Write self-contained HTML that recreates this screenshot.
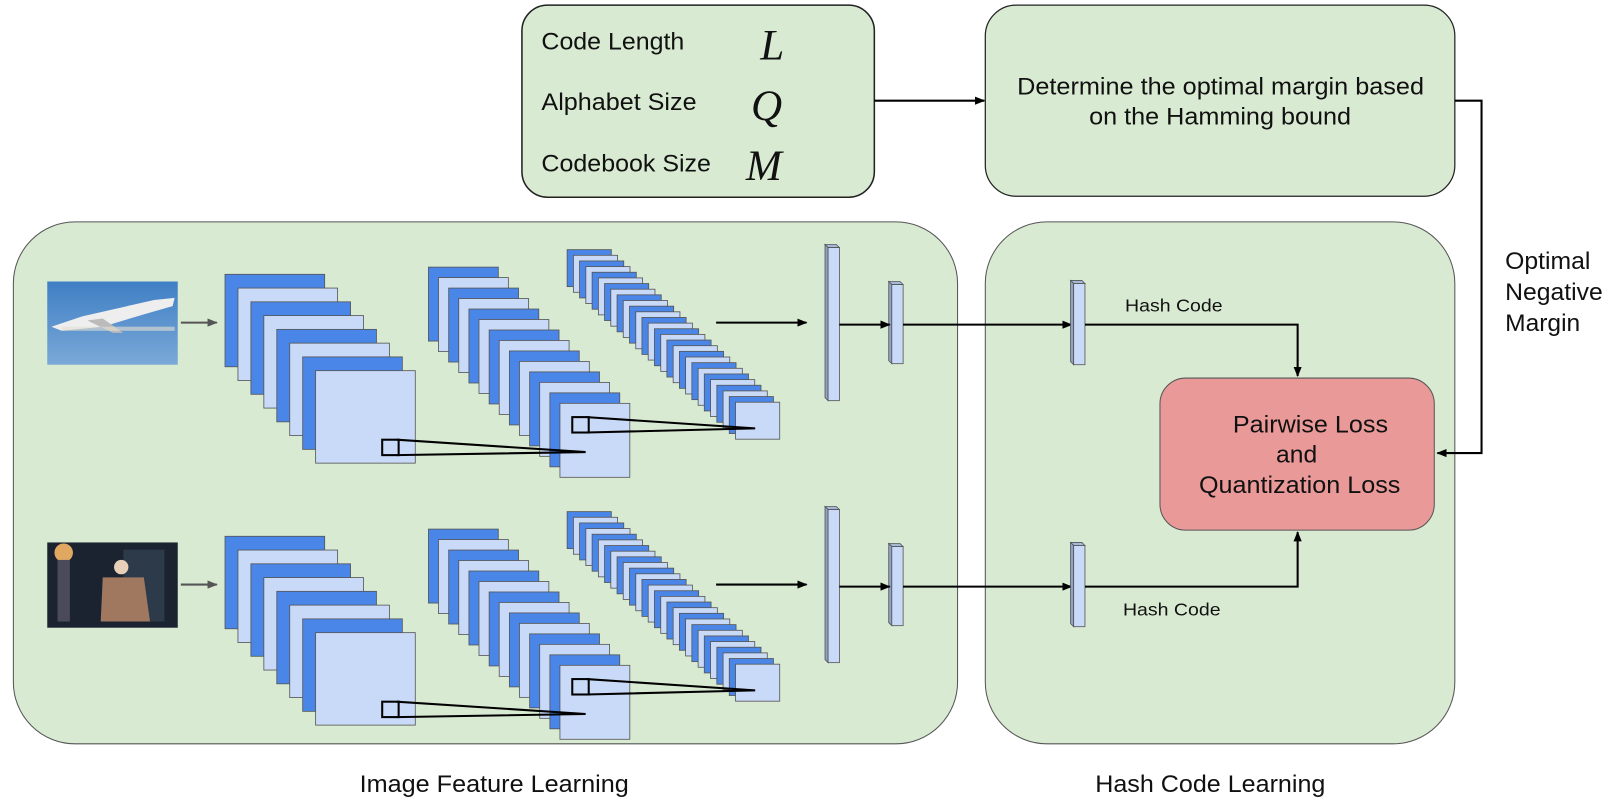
<!DOCTYPE html>
<html><head><meta charset="utf-8"><style>
html,body{margin:0;padding:0;background:#fff;}
svg{display:block;}
text{font-family:"Liberation Sans",Arial,sans-serif;fill:#111;}
.s{font-family:"Liberation Serif",serif;font-style:italic;}
.b{fill:#4a86e8;stroke:#555;stroke-width:0.8}
.l{fill:#c9daf8;stroke:#555;stroke-width:0.8}
</style></head><body>
<svg width="1611" height="811" viewBox="0 0 1568 789.4" preserveAspectRatio="none" xmlns="http://www.w3.org/2000/svg">
<defs>
<marker id="a" markerWidth="10" markerHeight="8" refX="9" refY="4" orient="auto" markerUnits="userSpaceOnUse"><path d="M0,0L10,4L0,8z" fill="#000"/></marker>
<marker id="g" markerWidth="10" markerHeight="8" refX="9" refY="4" orient="auto" markerUnits="userSpaceOnUse"><path d="M0,0L10,4L0,8z" fill="#555"/></marker>
<linearGradient id="sky" x1="0" y1="0" x2="0" y2="1"><stop offset="0" stop-color="#3f7fc4"/><stop offset="1" stop-color="#7aa9d8"/></linearGradient>
<g id="row">
<line x1="176" y1="314" x2="211" y2="314" stroke="#555" stroke-width="2" marker-end="url(#g)"/>
<rect class="b" x="219" y="267" width="97" height="90"/><rect class="l" x="231.6" y="280.4" width="97" height="90"/><rect class="b" x="244.2" y="293.8" width="97" height="90"/><rect class="l" x="256.8" y="307.2" width="97" height="90"/><rect class="b" x="269.4" y="320.6" width="97" height="90"/><rect class="l" x="282" y="334" width="97" height="90"/><rect class="b" x="294.6" y="347.4" width="97" height="90"/><rect class="l" x="307.2" y="360.8" width="97" height="90"/>
<rect class="b" x="417" y="260" width="68" height="72"/><rect class="l" x="426.8" y="270.2" width="68" height="72"/><rect class="b" x="436.7" y="280.4" width="68" height="72"/><rect class="l" x="446.5" y="290.6" width="68" height="72"/><rect class="b" x="456.4" y="300.8" width="68" height="72"/><rect class="l" x="466.2" y="311" width="68" height="72"/><rect class="b" x="476.1" y="321.2" width="68" height="72"/><rect class="l" x="485.9" y="331.4" width="68" height="72"/><rect class="b" x="495.8" y="341.6" width="68" height="72"/><rect class="l" x="505.6" y="351.8" width="68" height="72"/><rect class="b" x="515.5" y="362" width="68" height="72"/><rect class="l" x="525.3" y="372.2" width="68" height="72"/><rect class="b" x="535.2" y="382.4" width="68" height="72"/><rect class="l" x="545" y="392.6" width="68" height="72"/>
<rect class="b" x="552" y="243" width="43" height="36"/><rect class="l" x="558.1" y="248.5" width="43" height="36"/><rect class="b" x="564.1" y="254" width="43" height="36"/><rect class="l" x="570.2" y="259.5" width="43" height="36"/><rect class="b" x="576.3" y="265" width="43" height="36"/><rect class="l" x="582.4" y="270.5" width="43" height="36"/><rect class="b" x="588.4" y="276" width="43" height="36"/><rect class="l" x="594.5" y="281.5" width="43" height="36"/><rect class="b" x="600.6" y="287" width="43" height="36"/><rect class="l" x="606.6" y="292.5" width="43" height="36"/><rect class="b" x="612.7" y="298" width="43" height="36"/><rect class="l" x="618.8" y="303.5" width="43" height="36"/><rect class="b" x="624.8" y="309" width="43" height="36"/><rect class="l" x="630.9" y="314.5" width="43" height="36"/><rect class="b" x="637" y="320" width="43" height="36"/><rect class="l" x="643.1" y="325.5" width="43" height="36"/><rect class="b" x="649.1" y="331" width="43" height="36"/><rect class="l" x="655.2" y="336.5" width="43" height="36"/><rect class="b" x="661.3" y="342" width="43" height="36"/><rect class="l" x="667.3" y="347.5" width="43" height="36"/><rect class="b" x="673.4" y="353" width="43" height="36"/><rect class="l" x="679.5" y="358.5" width="43" height="36"/><rect class="b" x="685.5" y="364" width="43" height="36"/><rect class="l" x="691.6" y="369.5" width="43" height="36"/><rect class="b" x="697.7" y="375" width="43" height="36"/><rect class="l" x="703.8" y="380.5" width="43" height="36"/><rect class="b" x="709.8" y="386" width="43" height="36"/><rect class="l" x="715.9" y="391.5" width="43" height="36"/>
<rect x="372" y="428" width="16" height="15" fill="none" stroke="#000" stroke-width="2"/>
<polyline points="386,428 570,440 386,443" fill="none" stroke="#000" stroke-width="2"/>
<rect x="557" y="406" width="16" height="15" fill="none" stroke="#000" stroke-width="2"/>
<polyline points="571,406 735,417 571,421" fill="none" stroke="#000" stroke-width="2"/>
<line x1="697" y1="314" x2="785" y2="314" stroke="#000" stroke-width="2" marker-end="url(#a)"/>
<polygon points="803,238 814,238 817,241 806,241" fill="#a4b8d8" stroke="#555" stroke-width="0.8"/>
<polygon points="803,238 806,241 806,390 803,387" fill="#8fa3c8" stroke="#555" stroke-width="0.8"/>
<rect x="806" y="241" width="11" height="149" fill="#c9daf8" stroke="#555" stroke-width="0.8"/>
<polygon points="865,274 876,274 879,277 868,277" fill="#a4b8d8" stroke="#555" stroke-width="0.8"/>
<polygon points="865,274 868,277 868,354 865,351" fill="#8fa3c8" stroke="#555" stroke-width="0.8"/>
<rect x="868" y="277" width="11" height="77" fill="#c9daf8" stroke="#555" stroke-width="0.8"/>
<line x1="817" y1="316" x2="866" y2="316" stroke="#000" stroke-width="2" marker-end="url(#a)"/>
<line x1="879" y1="316" x2="1043" y2="316" stroke="#000" stroke-width="2" marker-end="url(#a)"/>
<polygon points="1042,273 1053,273 1056,276 1045,276" fill="#a4b8d8" stroke="#555" stroke-width="0.8"/>
<polygon points="1042,273 1045,276 1045,355 1042,352" fill="#8fa3c8" stroke="#555" stroke-width="0.8"/>
<rect x="1045" y="276" width="11" height="79" fill="#c9daf8" stroke="#555" stroke-width="0.8"/>
</g>
</defs>
<rect x="13" y="216" width="919" height="508" rx="60" ry="60" fill="#d9ead3" stroke="#555" stroke-width="1"/>
<rect x="959" y="216" width="457" height="508" rx="60" ry="60" fill="#d9ead3" stroke="#555" stroke-width="1"/>
<rect x="508" y="5" width="343" height="187" rx="25" fill="#d9ead3" stroke="#222" stroke-width="1.5"/>
<rect x="959" y="5" width="457" height="186" rx="30" fill="#d9ead3" stroke="#222" stroke-width="1.2"/>
<text x="527" y="48" font-size="23" textLength="139" lengthAdjust="spacingAndGlyphs">Code Length</text>
<text x="527" y="107" font-size="23" textLength="151" lengthAdjust="spacingAndGlyphs">Alphabet Size</text>
<text x="527" y="167" font-size="23" textLength="165" lengthAdjust="spacingAndGlyphs">Codebook Size</text>
<text class="s" x="740" y="58" font-size="42">L</text>
<text class="s" x="731" y="117" font-size="42">Q</text>
<text class="s" x="726" y="175" font-size="42">M</text>
<line x1="851" y1="98" x2="958" y2="98" stroke="#000" stroke-width="2" marker-end="url(#a)"/>
<text x="990" y="92" font-size="23" textLength="396" lengthAdjust="spacingAndGlyphs">Determine the optimal margin based</text>
<text x="1060" y="121" font-size="23" textLength="255" lengthAdjust="spacingAndGlyphs">on the Hamming bound</text>
<polyline points="1416,98 1442,98 1442,441 1399,441" fill="none" stroke="#000" stroke-width="2" marker-end="url(#a)"/>
<text x="1465" y="262" font-size="23" textLength="83" lengthAdjust="spacingAndGlyphs">Optimal</text>
<text x="1465" y="292" font-size="23" textLength="95" lengthAdjust="spacingAndGlyphs">Negative</text>
<text x="1465" y="322" font-size="23" textLength="73" lengthAdjust="spacingAndGlyphs">Margin</text>
<rect x="1129" y="368" width="267" height="148" rx="25" fill="#ea9999" stroke="#555" stroke-width="1"/>
<text x="1200" y="421" font-size="23" textLength="151" lengthAdjust="spacingAndGlyphs">Pairwise Loss</text>
<text x="1242" y="450" font-size="23" textLength="40" lengthAdjust="spacingAndGlyphs">and</text>
<text x="1167" y="480" font-size="23" textLength="196" lengthAdjust="spacingAndGlyphs">Quantization Loss</text>
<rect x="46" y="274" width="127" height="81" fill="url(#sky)"/>
<path d="M50,318 L80,308 L150,292 L170,290 L168,298 L140,306 L100,318 L60,322z" fill="#eee"/>
<path d="M85,312 L110,324 L120,324 L100,310z" fill="#bbb"/>
<rect x="60" y="318" width="110" height="4" fill="#e8e0d0" opacity="0.6"/>
<use href="#row"/>
<use href="#row" transform="translate(0,255)"/>
<rect x="46" y="528" width="127" height="83" fill="#1b2230"/>
<rect x="120" y="535" width="40" height="70" fill="#2c3a4a"/>
<circle cx="62" cy="538" r="9" fill="#e0a860"/>
<rect x="56" y="545" width="12" height="60" fill="#4a4a5a"/>
<circle cx="118" cy="552" r="7" fill="#e8d0b8"/>
<path d="M100,562 L140,562 L146,605 L98,605z" fill="#a07860"/>
<polyline points="1056,316 1263,316 1263,366" fill="none" stroke="#000" stroke-width="2" marker-end="url(#a)"/>
<polyline points="1056,571 1263,571 1263,518" fill="none" stroke="#000" stroke-width="2" marker-end="url(#a)"/>
<text x="1095" y="303" font-size="17" textLength="95" lengthAdjust="spacingAndGlyphs">Hash Code</text>
<text x="1093" y="599" font-size="17" textLength="95" lengthAdjust="spacingAndGlyphs">Hash Code</text>
<text x="350" y="771" font-size="23" textLength="262" lengthAdjust="spacingAndGlyphs">Image Feature Learning</text>
<text x="1066" y="771" font-size="23" textLength="224" lengthAdjust="spacingAndGlyphs">Hash Code Learning</text>
</svg>
</body></html>
